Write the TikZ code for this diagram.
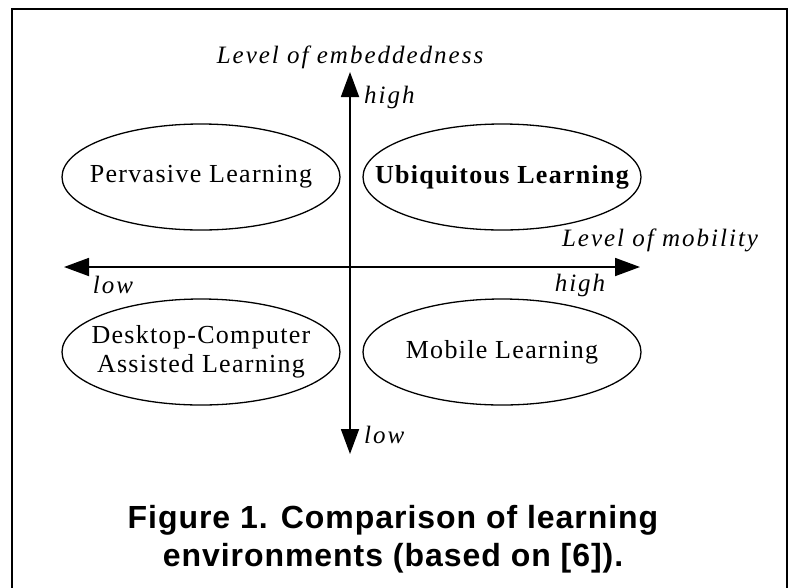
\documentclass[tikz,border=0pt]{standalone}
\usepackage{fontspec}
\setmainfont{Liberation Serif}
\newfontfamily\capfont[LetterSpace=3]{Liberation Sans}
\newfontfamily\ovalfont[LetterSpace=5]{Liberation Serif}
\newfontfamily\labfont[LetterSpace=8]{Liberation Serif}
\usetikzlibrary{arrows.meta,shapes.geometric}
\begin{document}
\begin{tikzpicture}[x=1pt,y=-1pt,
  oval/.style={draw, line width=1.3pt, ellipse, minimum width=278pt, minimum height=106pt, inner sep=0pt},
  ovaltext/.style={align=center, inner sep=0pt, font=\ovalfont\fontsize{26}{29}\selectfont},
  axis/.style={line width=1.8pt, -{Triangle[length=25pt,width=18pt]}},
  lab/.style={font=\labfont\fontsize{25}{27}\selectfont\itshape, inner sep=0pt}]
\useasboundingbox (0,0) rectangle (797,587);
\draw[line width=2pt] (12,600) -- (12,9) -- (787,9) -- (787,600);
\coordinate (o) at (350,267);
\coordinate (top) at (350,72);
\coordinate (bot) at (350,454);
\coordinate (lft) at (64,267);
\coordinate (rgt) at (640,267);
\draw[axis] (o) -- (top);
\draw[axis] (o) -- (bot);
\draw[axis] (o) -- (lft);
\draw[axis] (o) -- (rgt);
\node[oval] (pl) at (201,177) {};
\node[oval] (ul) at (502,177) {};
\node[oval] (dl) at (201,352) {};
\node[oval] (ml) at (502,352) {};
\node[ovaltext] (plt) at (pl) {Pervasive Learning};
\node[ovaltext, font=\ovalfont\fontsize{26}{29}\selectfont\bfseries] (ult) at (ul) {Ubiquitous Learning};
\node[ovaltext] (dlt) at (dl) {Desktop-Computer\\Assisted Learning};
\node[ovaltext] (mlt) at (ml) {Mobile Learning};
\node[lab] (emb) at (350,57) {Level of embeddedness};
\node[lab, anchor=west] (hi1) at (364,97) {high};
\node[lab, anchor=west] (lo1) at (364,435) {low};
\node[lab] (mob) at (660,240) {Level of mobility};
\node[lab] (hi2) at (580,285) {high};
\node[lab] (lo2) at (113,285) {low};
\node[font=\capfont\bfseries\fontsize{32}{38}\selectfont, align=center, inner sep=0pt] (cap) at (393,539) {Figure 1. Comparison of learning\\environments (based on [6]).};
\end{tikzpicture}
\end{document}
